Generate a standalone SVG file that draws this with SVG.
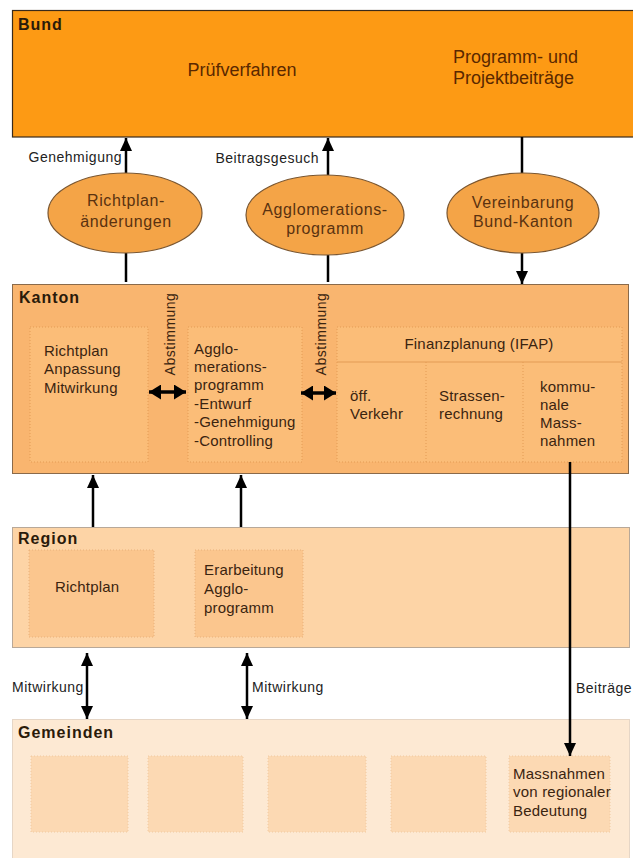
<svg xmlns="http://www.w3.org/2000/svg" width="633" height="858" viewBox="0 0 633 858">
<defs>
<style>
text{font-family:"Liberation Sans",Arial,sans-serif;}
.lvl{font-weight:bold;font-size:16px;letter-spacing:1px;fill:#2a1a0a;}
.bund{font-size:18px;fill:#5a2800;}
.ell{fill:#f4a447;stroke:#7a5630;stroke-width:1.2;}
.et{font-size:16px;letter-spacing:0.6px;fill:#5a3210;text-anchor:middle;}
.bt{font-size:15px;letter-spacing:0.2px;fill:#3a2410;}
.lab{font-size:14px;letter-spacing:0.5px;fill:#222;}
.ib{fill:#fbbd78;stroke:#e39b55;stroke-width:1;stroke-dasharray:1 2;}
.rb{fill:#fbc68e;stroke:#e8b07a;stroke-width:1;stroke-dasharray:1 2;}
.gb{fill:#fcd9b3;stroke:#f0c9a0;stroke-width:1;stroke-dasharray:1 2;}
.con{stroke:#000;stroke-width:2.5;fill:none;}
.dbl{stroke:#000;stroke-width:3.5;fill:none;}
</style>
<marker id="ah" viewBox="0 0 10 10" refX="10" refY="5" markerUnits="userSpaceOnUse" markerWidth="13" markerHeight="12" preserveAspectRatio="none" orient="auto-start-reverse">
<path d="M0,0 L10,5 L0,10 z" fill="#000"/>
</marker>
<marker id="ah2" viewBox="0 0 10 10" refX="10" refY="5" markerUnits="userSpaceOnUse" markerWidth="12" markerHeight="15" preserveAspectRatio="none" orient="auto-start-reverse">
<path d="M0,0 L10,5 L0,10 z" fill="#000"/>
</marker>
</defs>
<rect width="633" height="858" fill="#fff"/>

<g id="bund">
<rect x="12.5" y="10.5" width="625" height="126.5" fill="#fd9a14" stroke="#3a2a1a" stroke-width="1.2"/>
<text class="lvl" x="18" y="30">Bund</text>
<text class="bund" x="242" y="76" text-anchor="middle">Prüfverfahren</text>
<text class="bund" x="453" y="63">Programm- und</text>
<text class="bund" x="453" y="84">Projektbeiträge</text>
</g>

<g id="kanton">
<rect x="12.5" y="284.5" width="616" height="189" fill="#f9b56f" stroke="#8a6a4a" stroke-width="1"/>
<text class="lvl" x="19" y="303">Kanton</text>
</g>
<g id="kanton-richtplan">
<rect class="ib" x="30" y="327" width="118" height="135"/>
<text class="bt" x="44" y="356">Richtplan</text>
<text class="bt" x="44" y="374">Anpassung</text>
<text class="bt" x="44" y="393">Mitwirkung</text>
</g>
<g id="kanton-agglo">
<rect class="ib" x="188" y="327" width="114" height="135"/>
<text class="bt" x="194" y="354">Agglo-</text>
<text class="bt" x="194" y="372">merations-</text>
<text class="bt" x="194" y="390">programm</text>
<text class="bt" x="194" y="409">-Entwurf</text>
<text class="bt" x="194" y="427">-Genehmigung</text>
<text class="bt" x="194" y="446">-Controlling</text>
</g>
<g id="kanton-finanz">
<rect class="ib" x="337" y="327" width="285" height="135"/>
<line x1="337" y1="362" x2="622" y2="362" stroke="#e39b55" stroke-width="1"/>
<line x1="426" y1="362" x2="426" y2="462" stroke="#e39b55" stroke-width="1" stroke-dasharray="1 2"/>
<line x1="523" y1="362" x2="523" y2="462" stroke="#e39b55" stroke-width="1" stroke-dasharray="1 2"/>
<text class="bt" x="479" y="349" text-anchor="middle">Finanzplanung (IFAP)</text>
<text class="bt" x="350" y="401">öff.</text>
<text class="bt" x="350" y="419">Verkehr</text>
<text class="bt" x="439" y="401">Strassen-</text>
<text class="bt" x="439" y="419">rechnung</text>
<text class="bt" x="540" y="392">kommu-</text>
<text class="bt" x="540" y="410">nale</text>
<text class="bt" x="540" y="428">Mass-</text>
<text class="bt" x="540" y="446">nahmen</text>
</g>

<g id="region">
<rect x="12.5" y="527.5" width="617" height="120" fill="#fdd4a6" stroke="#b8a898" stroke-width="1"/>
<text class="lvl" x="18" y="544">Region</text>
</g>
<g id="region-richtplan">
<rect class="rb" x="29" y="550" width="125" height="87"/>
<text class="bt" x="55" y="592">Richtplan</text>
</g>
<g id="region-agglo">
<rect class="rb" x="195" y="550" width="108" height="87"/>
<text class="bt" x="204" y="575">Erarbeitung</text>
<text class="bt" x="204" y="594">Agglo-</text>
<text class="bt" x="204" y="613">programm</text>
</g>

<g id="gemeinden">
<rect x="12.5" y="719.5" width="617" height="140" fill="#fde9d3" stroke="#e6d6c6" stroke-width="1"/>
<text class="lvl" x="18" y="738">Gemeinden</text>
</g>
<g id="gem-1"><rect class="gb" x="31" y="756" width="97" height="76"/></g>
<g id="gem-2"><rect class="gb" x="148" y="756" width="95" height="76"/></g>
<g id="gem-3"><rect class="gb" x="268" y="756" width="98" height="76"/></g>
<g id="gem-4"><rect class="gb" x="391" y="756" width="95" height="76"/></g>
<g id="gem-5">
<rect class="gb" x="509" y="756" width="101" height="76"/>
<text class="bt" x="513" y="779">Massnahmen</text>
<text class="bt" x="513" y="797">von regionaler</text>
<text class="bt" x="513" y="816">Bedeutung</text>
</g>

<g id="connectors">
<line class="con" x1="126" y1="282" x2="126" y2="253"/>
<line class="con" x1="126" y1="173" x2="126" y2="138" marker-end="url(#ah)"/>
<line class="con" x1="328" y1="282" x2="328" y2="255"/>
<line class="con" x1="328" y1="175" x2="328" y2="138" marker-end="url(#ah)"/>
<line class="con" x1="522" y1="137" x2="522" y2="173"/>
<line class="con" x1="522" y1="253" x2="522" y2="284" marker-end="url(#ah)"/>
<line class="con" x1="93" y1="527" x2="93" y2="475" marker-end="url(#ah)"/>
<line class="con" x1="241" y1="527" x2="241" y2="475" marker-end="url(#ah)"/>
<line class="con" x1="87" y1="653" x2="87" y2="719" marker-start="url(#ah)" marker-end="url(#ah)"/>
<line class="con" x1="247" y1="653" x2="247" y2="719" marker-start="url(#ah)" marker-end="url(#ah)"/>
<line class="con" x1="570" y1="462" x2="570" y2="756" marker-end="url(#ah)"/>
<line class="dbl" x1="149" y1="392" x2="186" y2="392" marker-start="url(#ah2)" marker-end="url(#ah2)"/>
<line class="dbl" x1="301" y1="393" x2="336" y2="393" marker-start="url(#ah2)" marker-end="url(#ah2)"/>
<text class="lab" x="122" y="162" text-anchor="end">Genehmigung</text>
<text class="lab" x="319" y="163" text-anchor="end">Beitragsgesuch</text>
<text class="lab" x="12" y="692">Mitwirkung</text>
<text class="lab" x="252" y="692">Mitwirkung</text>
<text class="lab" x="576" y="693">Beiträge</text>
<text class="lab" transform="translate(175,334) rotate(-90)" text-anchor="middle" style="fill:#3a2410">Abstimmung</text>
<text class="lab" transform="translate(326,334) rotate(-90)" text-anchor="middle" style="fill:#3a2410">Abstimmung</text>
</g>

<g id="richtplan-aenderungen">
<ellipse class="ell" cx="125" cy="213" rx="77" ry="40"/>
<text class="et" x="126" y="206">Richtplan-</text>
<text class="et" x="126" y="227">änderungen</text>
</g>
<g id="agglomerationsprogramm">
<ellipse class="ell" cx="325" cy="215" rx="79" ry="40"/>
<text class="et" x="325" y="215">Agglomerations-</text>
<text class="et" x="325" y="234">programm</text>
</g>
<g id="vereinbarung">
<ellipse class="ell" cx="523" cy="213" rx="76" ry="40"/>
<text class="et" x="523" y="208">Vereinbarung</text>
<text class="et" x="523" y="227">Bund-Kanton</text>
</g>
</svg>
